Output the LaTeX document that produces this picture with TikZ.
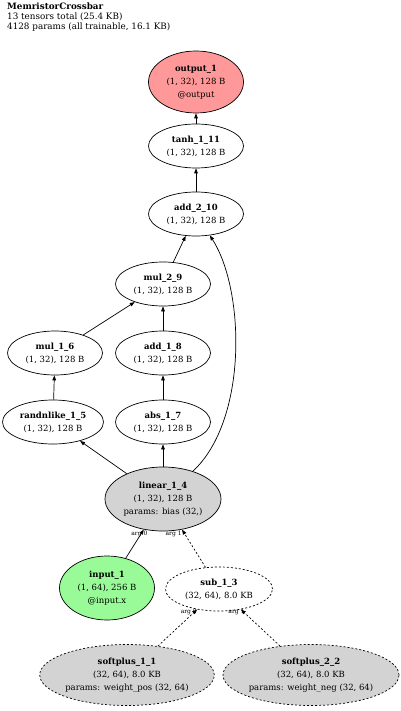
\documentclass[tikz,border=0pt]{standalone}
\usepackage{fontspec}
\setmainfont{DejaVu Serif}
\usetikzlibrary{shapes.geometric,arrows.meta}
\definecolor{outfill}{HTML}{FF9999}
\definecolor{infill}{HTML}{98FB98}
\definecolor{parfill}{HTML}{D3D3D3}
\tikzset{
  op/.style={ellipse, draw, line width=0.7pt, inner sep=0pt, align=center,
    font=\fontsize{8.5}{13}\selectfont},
  edge/.style={line width=0.7pt, -{Triangle[length=5pt,width=3.6pt]}},
  dedge/.style={edge, dash pattern=on 2pt off 2pt},
  arglab/.style={font=\fontsize{6}{6}\selectfont, inner sep=0pt}
}
\begin{document}
\begin{tikzpicture}[x=1pt,y=-1pt]
\useasboundingbox (0,0) rectangle (400,711);
\node[anchor=north west, align=left, inner sep=0pt, font=\fontsize{8.8}{9.6}\selectfont] (title) at (7,3)
  {\textbf{MemristorCrossbar}\\13 tensors total (25.4 KB)\\4128 params (all trainable, 16.1 KB)};

\node[op, fill=outfill, minimum width=95pt, minimum height=62pt] (out) at (196,82)
  {\textbf{output\_1}\\(1, 32), 128 B\\@output};
\node[op, minimum width=95pt, minimum height=44pt] (tanh) at (196,146)
  {\textbf{tanh\_1\_11}\\(1, 32), 128 B};
\node[op, minimum width=95pt, minimum height=44pt] (add210) at (196,214)
  {\textbf{add\_2\_10}\\(1, 32), 128 B};
\node[op, minimum width=95pt, minimum height=44pt] (mul29) at (163,284)
  {\textbf{mul\_2\_9}\\(1, 32), 128 B};
\node[op, minimum width=95pt, minimum height=44pt] (mul16) at (55,353)
  {\textbf{mul\_1\_6}\\(1, 32), 128 B};
\node[op, minimum width=95pt, minimum height=44pt] (add18) at (163,353)
  {\textbf{add\_1\_8}\\(1, 32), 128 B};
\node[op, minimum width=101pt, minimum height=44pt] (rand) at (53,422)
  {\textbf{randnlike\_1\_5}\\(1, 32), 128 B};
\node[op, minimum width=95pt, minimum height=44pt] (abs) at (163,422)
  {\textbf{abs\_1\_7}\\(1, 32), 128 B};
\node[op, fill=parfill, minimum width=116pt, minimum height=64pt] (lin) at (163,499)
  {\textbf{linear\_1\_4}\\(1, 32), 128 B\\params: bias (32,)};
\node[op, fill=infill, minimum width=95pt, minimum height=64pt] (inp) at (107,588)
  {\textbf{input\_1}\\(1, 64), 256 B\\@input.x};
\node[op, dash pattern=on 2pt off 2pt, minimum width=107pt, minimum height=44pt] (sub) at (219,589)
  {\textbf{sub\_1\_3}\\(32, 64), 8.0 KB};
\node[op, dash pattern=on 2pt off 2pt, fill=parfill, minimum width=172pt, minimum height=61pt] (sp1) at (127,675)
  {\textbf{softplus\_1\_1}\\(32, 64), 8.0 KB\\params: weight\_pos (32, 64)};
\node[op, dash pattern=on 2pt off 2pt, fill=parfill, minimum width=172pt, minimum height=61pt] (sp2) at (311,675)
  {\textbf{softplus\_2\_2}\\(32, 64), 8.0 KB\\params: weight\_neg (32, 64)};

\draw[edge] (tanh) -- (out);
\draw[edge] (add210) -- (tanh);
\draw[edge] (mul29) -- (add210);
\draw[edge] (lin) .. controls (248,420) and (245,290) .. (add210);
\draw[edge] (mul16) -- (mul29);
\draw[edge] (add18) -- (mul29);
\draw[edge] (rand) -- (mul16);
\draw[edge] (abs) -- (add18);
\draw[edge] (lin) -- (rand);
\draw[edge] (lin) -- (abs);
\draw[edge] (inp) -- (lin) node[arglab, at end, anchor=east, xshift=4pt, yshift=-4pt] {arg 0};
\draw[dedge] (sub) -- (lin) node[arglab, at end, anchor=east, yshift=-4pt] {arg 1};
\draw[dedge] (sp1) -- (sub) node[arglab, at end, anchor=east, yshift=-3pt] {arg 0};
\draw[dedge] (sp2) -- (sub) node[arglab, at end, anchor=east, xshift=4pt, yshift=-3pt] {arg 1};
\end{tikzpicture}
\end{document}
